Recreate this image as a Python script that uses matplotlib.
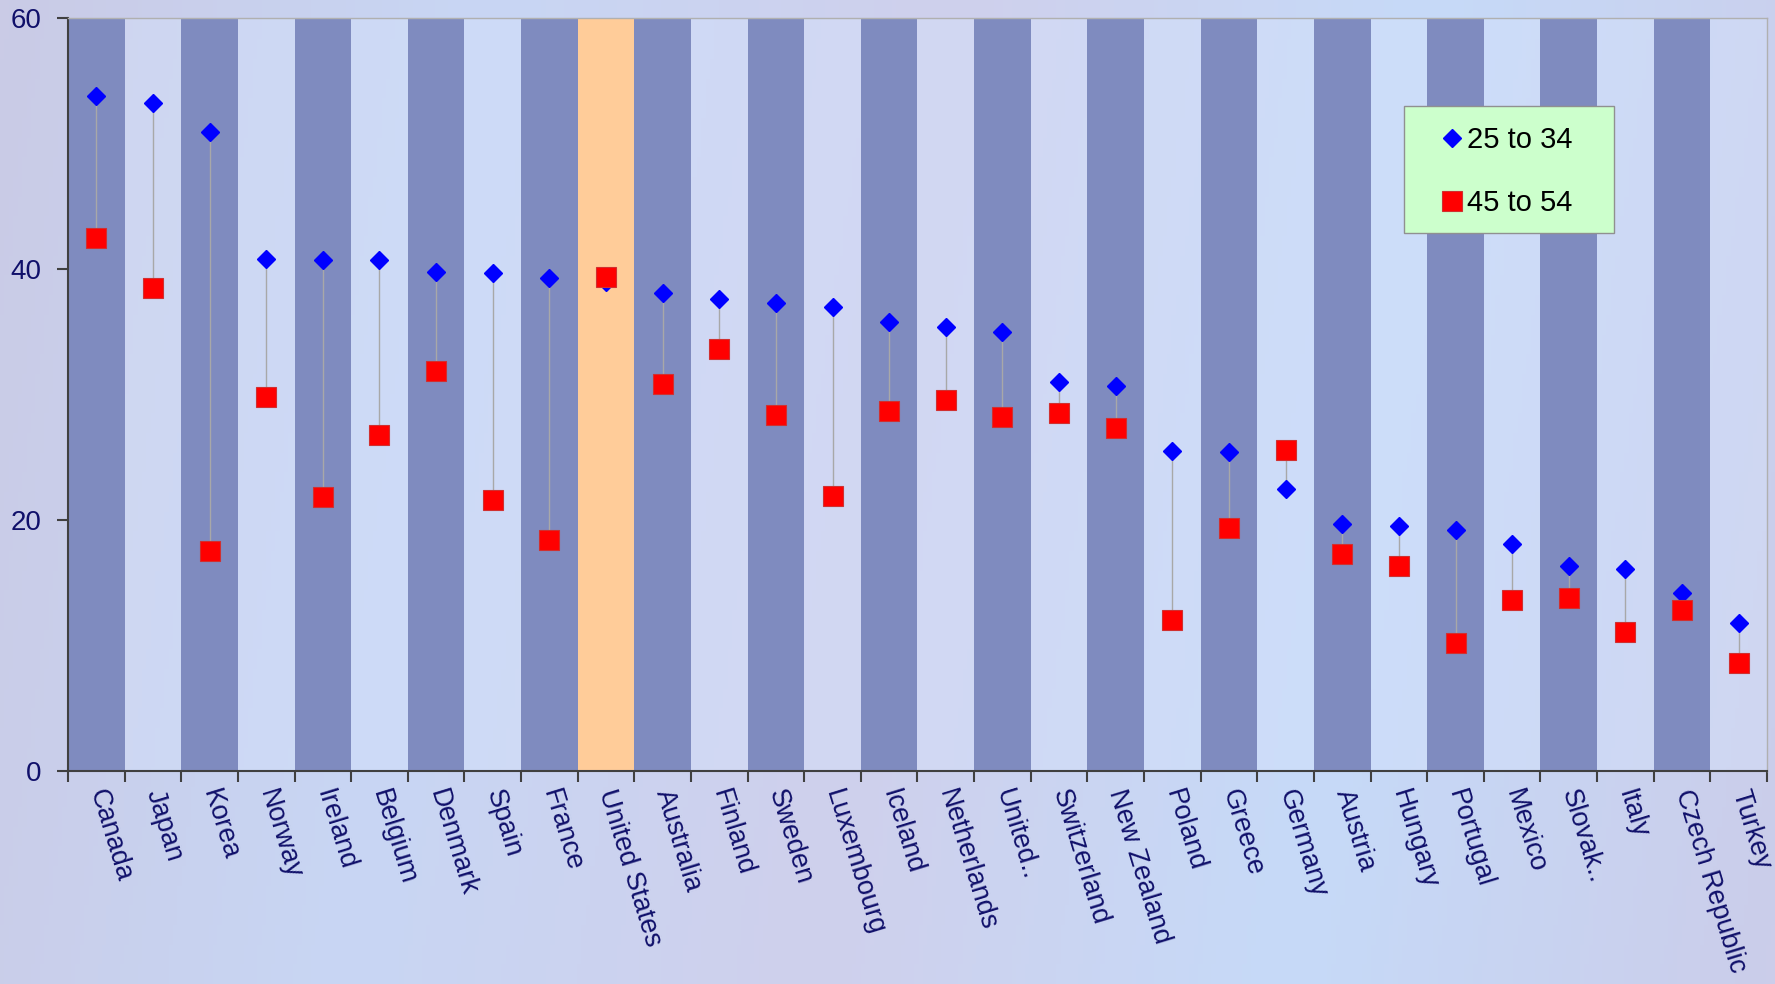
import matplotlib.pyplot as plt
import numpy as np
from matplotlib.colors import LinearSegmentedColormap
from matplotlib.patches import Rectangle

countries = ["Canada", "Japan", "Korea", "Norway", "Ireland", "Belgium", "Denmark", "Spain",
             "France", "United States", "Australia", "Finland", "Sweden", "Luxembourg", "Iceland",
             "Netherlands", "United..", "Switzerland", "New Zealand", "Poland", "Greece", "Germany",
             "Austria", "Hungary", "Portugal", "Mexico", "Slovak..", "Italy", "Czech Republic", "Turkey"]
age_25_34 = [53.8, 53.2, 50.9, 40.8, 40.7, 40.7, 39.8, 39.7, 39.3, 39.0, 38.1, 37.6, 37.3, 37.0, 35.8,
             35.4, 35.0, 31.0, 30.7, 25.5, 25.4, 22.5, 19.7, 19.5, 19.2, 18.1, 16.3, 16.1, 14.2, 11.8]
age_45_54 = [42.5, 38.5, 17.5, 29.8, 21.8, 26.8, 31.9, 21.6, 18.4, 39.4, 30.8, 33.6, 28.4, 21.9, 28.7,
             29.6, 28.2, 28.5, 27.3, 12.0, 19.4, 25.6, 17.3, 16.3, 10.2, 13.6, 13.8, 11.1, 12.8, 8.6]
highlight = "United States"

plt.rcParams['font.family'] = ['Liberation Sans', 'DejaVu Sans']
navy = '#10106A'
fig = plt.figure(figsize=(17.75, 9.84), dpi=100)

# soft background gradient
bg = fig.add_axes([0, 0, 1, 1], zorder=-10)
cmap = LinearSegmentedColormap.from_list('bg', ['#CACBE6', '#C8D6F4', '#CFD0EC', '#C6DAF8', '#CBCDEA'])
gx = np.linspace(0, 1, 400)
grad = np.tile(gx, (50, 1)) + 0.08 * np.linspace(0, 1, 50)[:, None]
bg.imshow(grad, aspect='auto', cmap=cmap, extent=[0, 1, 0, 1])
bg.axis('off')

ax = fig.add_axes([0.0383, 0.2165, 0.9572, 0.7652])
ax.patch.set_alpha(0)

x = np.arange(len(countries))
colors = []
for i, c in enumerate(countries):
    if c == highlight:
        colors.append('#FFCC99')
    elif i % 2 == 0:
        colors.append('#7F8BBF')
    else:
        colors.append((0.85, 0.90, 1.0, 0.35))
ax.bar(x, [60] * len(x), width=1.0, color=colors, zorder=1)

ax.vlines(x, np.minimum(age_25_34, age_45_54), np.maximum(age_25_34, age_45_54),
          color='#A8A8A8', lw=1.0, zorder=2)
ax.plot(x, age_25_34, 'D', color='#0000FF', ms=9.5, mec='#0000FF', lw=0, zorder=3, label='25 to 34')
ax.plot(x, age_45_54, 's', color='#FF0000', ms=15, mec='#D03030', mew=0.8, lw=0, zorder=4, label='45 to 54')

ax.set_xlim(-0.5, len(x) - 0.5)
ax.set_ylim(0, 60)
ax.set_yticks([0, 20, 40, 60])
ax.tick_params(axis='y', labelsize=20, labelcolor=navy, length=8, width=1.5, color='#404040', pad=11)

ax.set_xticks(np.arange(len(x) + 1) - 0.5)
ax.set_xticklabels([])
ax.tick_params(axis='x', which='major', length=8, width=1.5, color='#404040', direction='out')
ax.set_xticks(x, minor=True)
ax.set_xticklabels(countries, minor=True, rotation=-73, rotation_mode='anchor',
                   ha='left', va='center', fontsize=19.5, color=navy)
ax.tick_params(axis='x', which='minor', length=0, pad=14)

for side in ['left', 'bottom']:
    ax.spines[side].set_color('#404040')
    ax.spines[side].set_linewidth(1.5)
for side in ['top', 'right']:
    ax.spines[side].set_color('#B0B0B0')
    ax.spines[side].set_linewidth(1.0)

# legend box
ax.add_patch(Rectangle((0.7864, 0.7145), 0.1236, 0.1686, transform=ax.transAxes,
                       facecolor='#CCFFCC', edgecolor='#909090', lw=1.0, zorder=5))
leg = ax.legend(loc='upper left', bbox_to_anchor=(0.8087, 0.856), fontsize=21, frameon=False,
                handletextpad=0.15, labelspacing=1.2, borderpad=0, borderaxespad=0,
                handlelength=0.7)
leg.set_zorder(6)

fig.savefig('out.png', dpi=100)
